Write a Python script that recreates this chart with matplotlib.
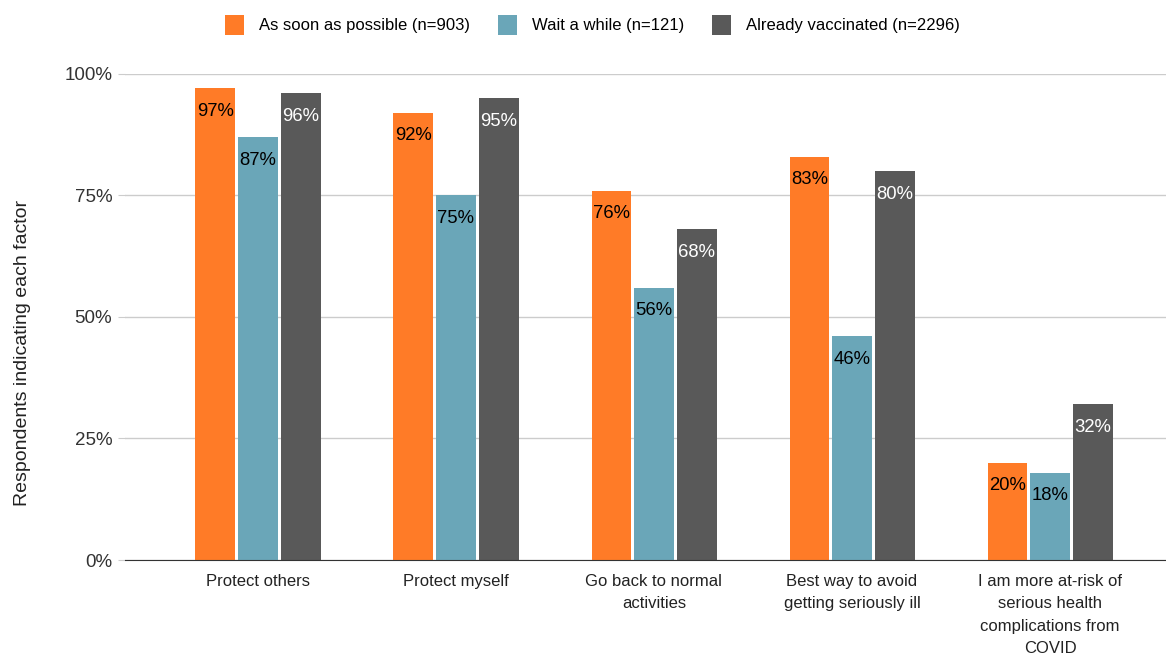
import numpy as np
import matplotlib.pyplot as plt

plt.rcParams['font.family'] = ['Liberation Sans', 'DejaVu Sans']

categories = ["Protect others", "Protect myself", "Go back to normal\nactivities",
              "Best way to avoid\ngetting seriously ill",
              "I am more at-risk of\nserious health\ncomplications from\nCOVID"]
series_names = ["As soon as possible (n=903)", "Wait a while (n=121)", "Already vaccinated (n=2296)"]
asap = [97, 92, 76, 83, 20]
wait = [87, 75, 56, 46, 18]
vaccinated = [96, 95, 68, 80, 32]
y_ticks = [0, 25, 50, 75, 100]

colors = ["#ff7b27", "#6aa6b8", "#595959"]
label_colors = ["black", "black", "white"]

fig = plt.figure(figsize=(11.66, 6.54), dpi=100)
ax = fig.add_axes([0.107, 0.1437, 0.893, 0.887 - 0.1437])

x = np.arange(len(categories))
offsets = [-0.215, 0, 0.217]
width = 0.2
for vals, off, col, lc, name in zip([asap, wait, vaccinated], offsets, colors, label_colors, series_names):
    bars = ax.bar(x + off, vals, width, color=col, label=name, zorder=3)
    for b, v in zip(bars, vals):
        ax.annotate(f"{v}%", (b.get_x() + b.get_width() / 2, v), xytext=(0, -23),
                    textcoords='offset pixels', ha='center', va='center',
                    fontsize=13.3, color=lc, zorder=4)

ax.set_xlim(-0.672, 4.586)
ax.set_ylim(0, 100)
ax.set_yticks(y_ticks)
ax.set_yticklabels([f"{t}%" for t in y_ticks], fontsize=13.5, color="#333333")
ax.set_xticks(x)
ax.set_xticklabels(categories, fontsize=12, color="#222222", linespacing=1.62)
ax.tick_params(axis='x', length=0, pad=10)
ax.tick_params(axis='y', length=5, color="#cccccc", pad=4)
ax.yaxis.grid(True, color="#cccccc", linewidth=1, zorder=0)
for s in ['top', 'right', 'left']:
    ax.spines[s].set_visible(False)
ax.spines['bottom'].set_color("#333333")
ax.spines['bottom'].set_zorder(5)

ax.set_ylabel("Respondents indicating each factor", fontsize=14, color="#222222")
ax.yaxis.set_label_coords(-0.09, 0.425)

fig.legend(loc='center', bbox_to_anchor=(0.508, 0.962), ncol=3, frameon=False,
           fontsize=12, handlelength=1.15, handleheight=1.5, columnspacing=1.65,
           handletextpad=0.9)

fig.savefig("out.png", dpi=100)
